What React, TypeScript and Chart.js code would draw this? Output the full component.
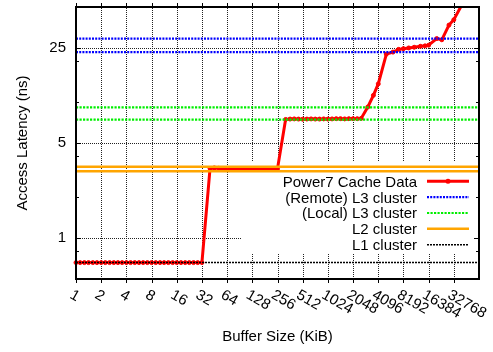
import React, { useEffect, useRef } from 'react';
import { Chart, registerables } from 'chart.js';

Chart.register(...registerables);

const FONT_FAMILY = '"Liberation Sans", Arial, Helvetica, sans-serif';

// ---------------- data ----------------
const sizesKiB = [
  1, 1.12, 1.26, 1.41, 1.59, 1.78,
  2, 2.24, 2.52, 2.83, 3.17, 3.56,
  4, 4.49, 5.04, 5.66, 6.35, 7.13,
  8, 8.98, 10.1, 11.3, 12.7, 14.3,
  16, 18, 20.2, 22.6, 25.4, 28.5,
  32,
  40, 45, 51, 57, 64, 72, 81, 91, 102, 114, 128, 144, 161, 181, 203, 228, 256,
  320, 362, 406, 456, 512, 575, 645, 724, 813, 912, 1024, 1149, 1290, 1448, 1625, 1825, 2048, 2299, 2560,
  3072, 3584, 4096, 5120, 6144, 7168, 8192, 9472, 11008, 13056, 14848, 16384, 20480, 23552, 28672, 32768, 40960,
];

const latencyNs = [
  0.66, 0.66, 0.66, 0.66, 0.66, 0.66,
  0.66, 0.66, 0.66, 0.66, 0.66, 0.66,
  0.66, 0.66, 0.66, 0.66, 0.66, 0.66,
  0.66, 0.66, 0.66, 0.66, 0.66, 0.66,
  0.66, 0.66, 0.66, 0.66, 0.66, 0.66,
  0.66,
  3.25, 3.28, 3.26, 3.23, 3.22, 3.22, 3.22, 3.22, 3.22, 3.22, 3.22, 3.22, 3.22, 3.23, 3.23, 3.23, 3.24,
  7.45, 7.5, 7.52, 7.5, 7.48, 7.5, 7.52, 7.5, 7.5, 7.52, 7.5, 7.52, 7.55, 7.55, 7.52, 7.55, 7.55, 7.55, 7.58,
  9.2, 11.2, 13.6, 22.5, 23.3, 24.4, 24.7, 25.0, 25.3, 25.7, 25.9, 26.2, 29.3, 28.7, 36.8, 40.3, 52,
];

const remoteL3Ns = [29.3, 23.3];
const localL3Ns = [9.13, 7.43];
const l2Ns = [3.35, 3.1];
const l1Ns = [0.662];

const xTickValues = [1, 2, 4, 8, 16, 32, 64, 128, 256, 512, 1024, 2048, 4096, 8192, 16384, 32768];
const yLabeledTicks = [1, 5, 25];
const yMinorTicks = [0.8, 2, 4, 10, 20];

const X_MIN = 1;
const X_MAX = 65536;
const Y_MIN = 0.5;
const Y_MAX = 50;

// ---------------- styling ----------------
const RED = '#ff0000';
const BLUE = '#0000ff';
const GREEN = '#00ee00';
const ORANGE = '#ffa500';
const GRID = '#222222';

const KEY_BOX = { left: 241, top: 162, bottom: 253 };
const KEY_TEXT_RIGHT = 417;
const KEY_SAMPLE_X = [427, 469];
const KEY_FIRST_BASELINE = 186.7;
const KEY_ROW = 15.85;

function hLine(label: string, y: number, color: string, width: number, dash: number[], inKey: boolean) {
  return {
    label,
    data: [{ x: X_MIN, y }, { x: X_MAX, y }],
    borderColor: color,
    backgroundColor: color,
    borderWidth: width,
    borderDash: dash,
    pointRadius: 0,
    fill: false,
    order: 0,
    clip: 0,
    inKey,
  };
}

const decorPlugin = {
  id: 'gnuplotDecor',
  beforeDatasetsDraw(chart: any) {
    const { ctx, chartArea: a, scales } = chart;
    const xs = scales.x;
    const ys = scales.y;
    ctx.save();
    // dotted grid
    ctx.strokeStyle = GRID;
    ctx.lineWidth = 1;
    ctx.setLineDash([1, 1]);
    for (const v of xTickValues) {
      const px = Math.round(xs.getPixelForValue(v)) + 0.5;
      if (px <= a.left + 1) continue;
      ctx.beginPath();
      ctx.moveTo(px, a.bottom);
      ctx.lineTo(px, a.top);
      ctx.stroke();
    }
    for (const v of yLabeledTicks) {
      const py = Math.round(ys.getPixelForValue(v)) + 0.5;
      ctx.beginPath();
      ctx.moveTo(a.left, py);
      ctx.lineTo(a.right, py);
      ctx.stroke();
    }
    ctx.setLineDash([]);
    // key area is kept free of grid lines
    ctx.fillStyle = '#ffffff';
    ctx.fillRect(KEY_BOX.left, KEY_BOX.top, a.right - 1.5 - KEY_BOX.left, KEY_BOX.bottom - KEY_BOX.top);
    ctx.restore();
  },
  afterDatasetsDraw(chart: any) {
    const { ctx, chartArea: a, scales } = chart;
    const xs = scales.x;
    const ys = scales.y;
    ctx.save();
    ctx.setLineDash([]);
    ctx.strokeStyle = '#000';

    // plot border
    ctx.lineWidth = 2;
    ctx.strokeRect(a.left, a.top, a.right - a.left, a.bottom - a.top);

    // x ticks (outward, mirrored on top)
    ctx.lineWidth = 1;
    for (const v of xTickValues) {
      const px = Math.round(xs.getPixelForValue(v)) + 0.5;
      ctx.beginPath();
      ctx.moveTo(px, a.bottom);
      ctx.lineTo(px, a.bottom + 4);
      ctx.moveTo(px, a.top);
      ctx.lineTo(px, a.top - 4);
      ctx.stroke();
    }
    // y ticks (inward, mirrored on right)
    const yt = [...yLabeledTicks.map((v) => [v, 5]), ...yMinorTicks.map((v) => [v, 3])];
    for (const [v, len] of yt) {
      const py = Math.round(ys.getPixelForValue(v)) + 0.5;
      ctx.beginPath();
      ctx.moveTo(a.left, py);
      ctx.lineTo(a.left + len, py);
      ctx.moveTo(a.right, py);
      ctx.lineTo(a.right - len, py);
      ctx.stroke();
    }

    // rotated x tick labels
    ctx.fillStyle = '#000';
    ctx.font = `15px ${FONT_FAMILY}`;
    ctx.textAlign = 'left';
    ctx.textBaseline = 'middle';
    for (const v of xTickValues) {
      const px = xs.getPixelForValue(v);
      ctx.save();
      ctx.translate(px - 5, a.bottom + 15);
      ctx.rotate(Math.PI / 6);
      ctx.fillText(String(v), 0, 0);
      ctx.restore();
    }

    // key
    const entries = chart.data.datasets.filter((d: any) => d.inKey);
    entries.forEach((d: any, i: number) => {
      const base = KEY_FIRST_BASELINE + i * KEY_ROW;
      const mid = base - 5.4;
      ctx.fillStyle = '#000';
      ctx.textAlign = 'right';
      ctx.textBaseline = 'alphabetic';
      ctx.fillText(d.label, KEY_TEXT_RIGHT, base);
      ctx.strokeStyle = d.borderColor;
      ctx.lineWidth = d.borderWidth;
      ctx.setLineDash(d.borderDash || []);
      ctx.beginPath();
      ctx.moveTo(KEY_SAMPLE_X[0], mid);
      ctx.lineTo(KEY_SAMPLE_X[1], mid);
      ctx.stroke();
      ctx.setLineDash([]);
      if (d.pointRadius > 0) {
        ctx.fillStyle = d.pointBackgroundColor;
        ctx.beginPath();
        ctx.arc((KEY_SAMPLE_X[0] + KEY_SAMPLE_X[1]) / 2, mid, d.pointRadius + 0.5, 0, Math.PI * 2);
        ctx.fill();
      }
    });
    ctx.restore();
  },
};

export default function App() {
  const canvasRef = useRef<HTMLCanvasElement | null>(null);

  useEffect(() => {
    const canvas = canvasRef.current;
    if (!canvas) return;
    Chart.defaults.font.family = FONT_FAMILY;
    Chart.defaults.color = '#000';

    const measured = {
      label: 'Power7 Cache Data',
      data: sizesKiB.map((x, i) => ({ x, y: latencyNs[i] })),
      borderColor: RED,
      backgroundColor: RED,
      pointBackgroundColor: RED,
      pointBorderColor: RED,
      borderWidth: 3,
      pointRadius: 2,
      pointBorderWidth: 1,
      fill: false,
      tension: 0,
      order: 1,
      clip: { left: 6, right: 0, top: 0, bottom: 6 },
      inKey: true,
    };

    const datasets: any[] = [
      measured,
      ...remoteL3Ns.map((v, i) => hLine('(Remote) L3 cluster', v, BLUE, 2.2, [2, 1.2], i === 0)),
      ...localL3Ns.map((v, i) => hLine('(Local) L3 cluster', v, GREEN, 2.2, [2.2, 1.3], i === 0)),
      ...l2Ns.map((v, i) => hLine('L2 cluster', v, ORANGE, 2.5, [], i === 0)),
      ...l1Ns.map((v, i) => hLine('L1 cluster', v, '#000', 1.5, [2, 1], i === 0)),
    ];

    const chart = new Chart(canvas, {
      type: 'line',
      data: { datasets },
      plugins: [decorPlugin],
      options: {
        animation: false,
        responsive: false,
        devicePixelRatio: 1,
        events: [],
        layout: { padding: { top: 7, right: 14, left: 0, bottom: 0 } },
        plugins: { legend: { display: false }, tooltip: { enabled: false } },
        scales: {
          x: {
            type: 'logarithmic',
            min: X_MIN,
            max: X_MAX,
            afterBuildTicks: (s: any) => {
              s.ticks = xTickValues.map((v) => ({ value: v }));
            },
            afterFit: (s: any) => {
              s.height = 73;
              s.paddingLeft = 0;
              s.paddingRight = 0;
            },
            ticks: { display: false },
            grid: { display: false },
            border: { display: false },
            title: {
              display: true,
              text: 'Buffer Size (KiB)',
              color: '#000',
              font: { size: 15, family: FONT_FAMILY },
              padding: { top: 0, bottom: 6 },
            },
          },
          y: {
            type: 'logarithmic',
            min: Y_MIN,
            max: Y_MAX,
            afterBuildTicks: (s: any) => {
              s.ticks = [...yMinorTicks, ...yLabeledTicks].sort((a, b) => a - b).map((v) => ({ value: v }));
            },
            afterFit: (s: any) => {
              s.width = 76;
              s.paddingTop = 0;
              s.paddingBottom = 0;
            },
            ticks: {
              padding: 10,
              color: '#000',
              font: { size: 15, family: FONT_FAMILY },
              callback: (v: any) => (yLabeledTicks.includes(Number(v)) ? String(v) : ''),
            },
            grid: { display: false, drawTicks: false },
            border: { display: false },
            title: {
              display: true,
              text: 'Access Latency (ns)',
              color: '#000',
              font: { size: 15, family: FONT_FAMILY },
              padding: { top: 13.5, bottom: 0 },
            },
          },
        },
      } as any,
    });
    return () => chart.destroy();
  }, []);

  return (
    <div style={{ position: 'fixed', left: 0, top: 0, width: 493, height: 352, background: '#fff' }}>
      <canvas ref={canvasRef} width={493} height={352} style={{ display: 'block', width: 493, height: 352 }} />
    </div>
  );
}
